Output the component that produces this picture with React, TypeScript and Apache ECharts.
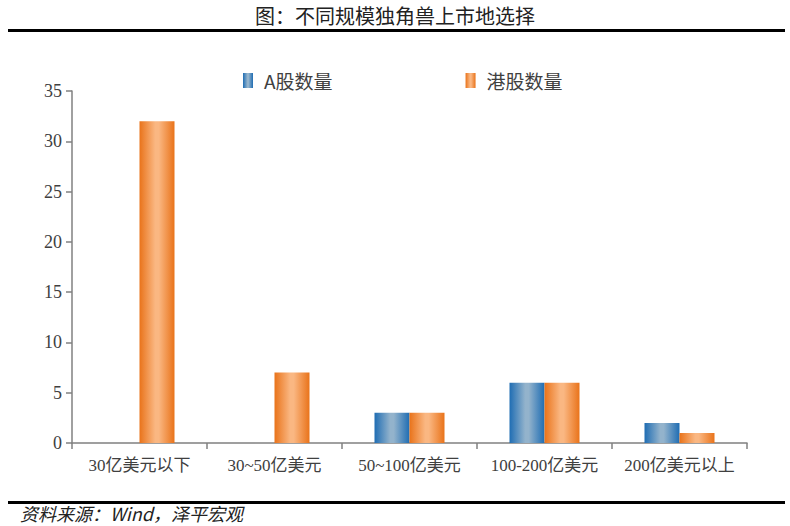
import React, { useEffect, useRef } from "react";
import * as echarts from "echarts";

const categories = ["30亿美元以下", "30~50亿美元", "50~100亿美元", "100-200亿美元", "200亿美元以上"];
const aShares = [0, 0, 3, 6, 2];
const hkShares = [32, 7, 3, 6, 1];
const yTicks = [0, 5, 10, 15, 20, 25, 30, 35];

const FONT = "Liberation Serif, Times New Roman, Noto Sans CJK SC, serif";

function grad(edge: string, mid: string) {
  return new echarts.graphic.LinearGradient(0, 0, 1, 0, [
    { offset: 0, color: edge },
    { offset: 0.45, color: mid },
    { offset: 0.55, color: mid },
    { offset: 1, color: edge },
  ]);
}

export default function App() {
  const ref = useRef<HTMLDivElement>(null);
  useEffect(() => {
    if (!ref.current) return;
    const chart = echarts.init(ref.current, null, { renderer: "svg" });
    const blue = grad("#1f6db3", "#93b3cc");
    const orange = grad("#e9731a", "#fab782");
    chart.setOption({
      animation: false,
      backgroundColor: "#ffffff",
      grid: { left: 72, right: 43, top: 91, bottom: 83 },
      legend: {
        top: 66,
        left: 238,
        itemWidth: 10,
        itemHeight: 15,
        itemGap: 133,
        icon: "rect",
        textStyle: {
          fontSize: 19,
          color: "#404040",
          fontFamily: "Noto Sans CJK SC, sans-serif",
          padding: [0, 0, 0, 6],
        },
        data: [
          { name: "A股数量", itemStyle: { color: blue } },
          { name: "港股数量", itemStyle: { color: orange } },
        ],
      },
      xAxis: {
        type: "category",
        data: categories,
        axisLine: { lineStyle: { color: "#808080", width: 1.5 } },
        axisTick: { show: true, length: 6, lineStyle: { color: "#808080", width: 1.5 } },
        axisLabel: { interval: 0, fontSize: 17, color: "#404040", fontFamily: FONT, margin: 14 },
      },
      yAxis: {
        type: "value",
        min: 0,
        max: 35,
        interval: 5,
        splitLine: { show: false },
        axisLine: { show: true, lineStyle: { color: "#808080", width: 1.5 } },
        axisTick: { show: true, length: 6, lineStyle: { color: "#808080", width: 1.5 } },
        axisLabel: {
          fontSize: 18,
          color: "#404040",
          fontFamily: FONT,
          margin: 10,
          formatter: (v: number) => (yTicks.includes(v) ? String(v) : ""),
        },
      },
      series: [
        {
          name: "A股数量",
          type: "bar",
          data: aShares,
          barWidth: 35,
          barGap: "0%",
          itemStyle: { color: blue },
        },
        {
          name: "港股数量",
          type: "bar",
          data: hkShares,
          barWidth: 35,
          itemStyle: { color: orange },
        },
      ],
      graphic: [
        {
          type: "text",
          left: "center",
          top: 5,
          style: {
            text: "图：不同规模独角兽上市地选择",
            fontSize: 20,
            fill: "#222222",
            fontFamily: "Noto Sans CJK SC, sans-serif",
          },
        },
        {
          type: "rect",
          shape: { x: 8, y: 29, width: 777, height: 3 },
          style: { fill: "#000000" },
        },
        {
          type: "rect",
          shape: { x: 8, y: 501, width: 777, height: 3 },
          style: { fill: "#000000" },
        },
        {
          type: "text",
          left: 20,
          top: 504,
          style: {
            text: "资料来源：Wind，泽平宏观",
            fontSize: 18,
            fontStyle: "italic",
            fill: "#222222",
            fontFamily: "Noto Sans CJK SC, sans-serif",
          },
        },
      ],
    });
    return () => chart.dispose();
  }, []);
  return (
    <div
      ref={ref}
      style={{ position: "fixed", left: 0, top: 0, width: 790, height: 526 }}
    />
  );
}
